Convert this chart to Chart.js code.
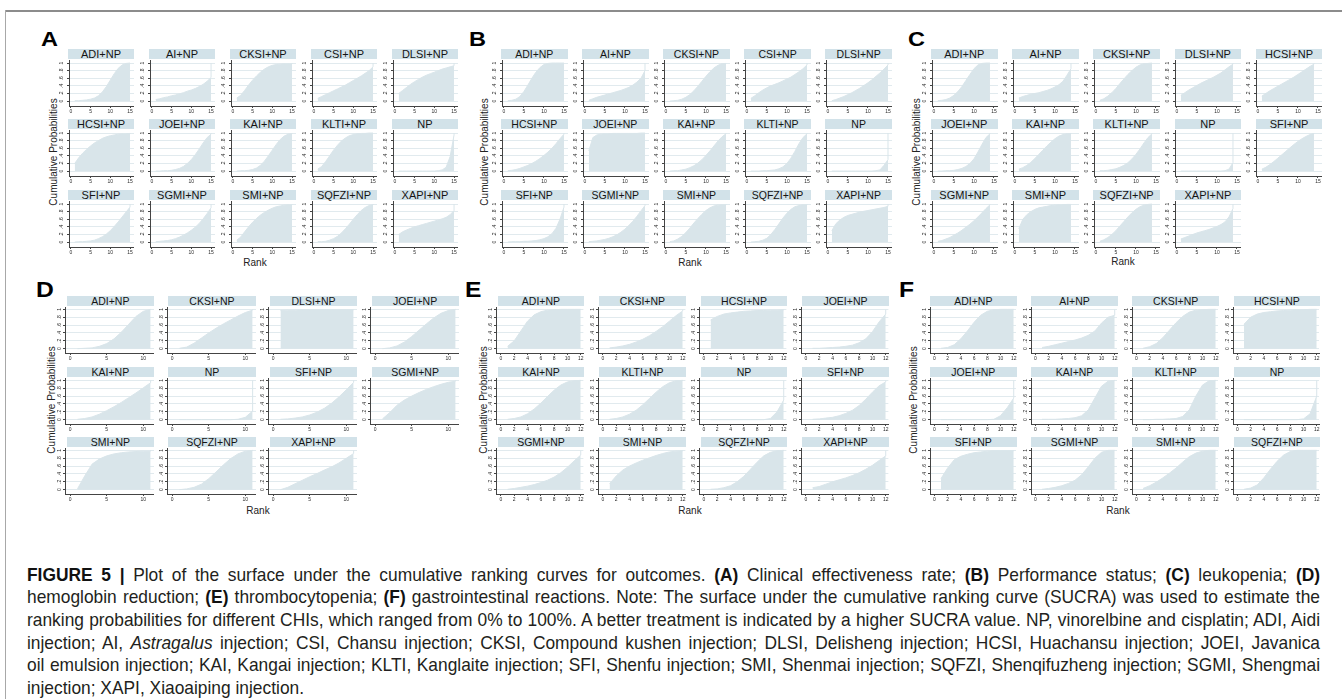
<!DOCTYPE html>
<html>
<head>
<meta charset="utf-8">
<title>SUCRA cumulative ranking plots</title>
<script src="https://cdn.jsdelivr.net/npm/chart.js@4.4.1/dist/chart.umd.min.js"></script>
<style>
  html, body { margin: 0; padding: 0; background: #fff; }
  body { width: 1342px; height: 699px; position: relative; overflow: hidden; font-family: "Liberation Sans", Arial, sans-serif; }
  canvas { position: absolute; }
  .frame-top { position: absolute; left: 5px; top: 10px; width: 1337px; height: 2px; background: #8c8c8c; }
  .frame-left { position: absolute; left: 5px; top: 10px; width: 1px; height: 689px; background: #a8a8a8; }
  .strip { position: absolute; height: 10px; line-height: 10.5px; background: #d2e2e9; color: #141414; text-align: center; white-space: nowrap; overflow: visible; }
  .letter { position: absolute; font-weight: bold; color: #000; line-height: 1; transform-origin: 0 0; transform: scaleX(1.12); }
  .ytitle { position: absolute; font-size: 10px; color: #222; white-space: nowrap; transform: translate(-50%, -50%) rotate(-90deg); }
  .xtitle { position: absolute; font-size: 10px; color: #222; white-space: nowrap; transform: translate(-50%, -50%); }
  .cap { position: absolute; left: 27px; height: 23px; line-height: 23px; color: #231f20; font-size: 19px;
         text-align: justify; text-align-last: justify; white-space: nowrap; transform-origin: 0 50%; }
  .cap.last { text-align: left; text-align-last: left; }
  .cap b { color: #111; }
</style>
</head>
<body>
<div class="frame-top"></div>
<div class="frame-left"></div>

<script>
// ---- shared axis ticks ----
const yTickValues = [0, 0.2, 0.4, 0.6, 0.8, 1];
const yTickLabels = ['0', '.2', '.4', '.6', '.8', '1'];
const xTicks15 = [0, 5, 10, 15];
const xTicks11 = [0, 5, 10];
const xTicks12 = [0, 2, 4, 6, 8, 10, 12];

// ---- ranks (x categories) ----
const ranks15 = [1, 2, 3, 4, 5, 6, 7, 8, 9, 10, 11, 12, 13, 14, 15];
const ranks14 = [1, 2, 3, 4, 5, 6, 7, 8, 9, 10, 11, 12, 13, 14];
const ranks11 = [1, 2, 3, 4, 5, 6, 7, 8, 9, 10, 11];
const ranks12 = [1, 2, 3, 4, 5, 6, 7, 8, 9, 10, 11, 12];

// every curve closes at cumulative probability 1 on the last rank
const finalCumulative = 1;

// ---- (A) Clinical effectiveness rate ----
const treatmentsA = ['ADI+NP', 'AI+NP', 'CKSI+NP', 'CSI+NP', 'DLSI+NP', 'HCSI+NP', 'JOEI+NP', 'KAI+NP', 'KLTI+NP', 'NP', 'SFI+NP', 'SGMI+NP', 'SMI+NP', 'SQFZI+NP', 'XAPI+NP'];
const cumProbA = [
  [0.01, 0.01, 0.02, 0.03, 0.05, 0.08, 0.14, 0.24, 0.38, 0.55, 0.72, 0.86, 0.95, 0.99, 1],
  [0.04, 0.06, 0.09, 0.11, 0.14, 0.16, 0.19, 0.22, 0.26, 0.29, 0.33, 0.38, 0.44, 0.52, 0.62],
  [0.08, 0.15, 0.28, 0.42, 0.55, 0.66, 0.76, 0.84, 0.9, 0.94, 0.96, 0.97, 0.98, 0.98, 0.98],
  [0.07, 0.12, 0.17, 0.22, 0.27, 0.32, 0.37, 0.42, 0.48, 0.54, 0.6, 0.66, 0.73, 0.8, 0.9],
  [0.2, 0.28, 0.36, 0.44, 0.51, 0.57, 0.63, 0.68, 0.72, 0.76, 0.8, 0.84, 0.87, 0.9, 0.93],
  [0.2, 0.35, 0.47, 0.57, 0.66, 0.74, 0.8, 0.86, 0.9, 0.93, 0.95, 0.97, 0.98, 0.98, 0.99],
  [0, 0, 0.01, 0.01, 0.02, 0.04, 0.07, 0.12, 0.2, 0.3, 0.43, 0.58, 0.74, 0.88, 0.97],
  [0, 0.01, 0.01, 0.02, 0.04, 0.08, 0.15, 0.26, 0.4, 0.55, 0.7, 0.83, 0.92, 0.97, 0.99],
  [0.05, 0.12, 0.25, 0.4, 0.55, 0.68, 0.79, 0.87, 0.93, 0.96, 0.98, 0.99, 0.99, 1, 1],
  [0, 0, 0, 0, 0, 0, 0, 0, 0, 0, 0.01, 0.03, 0.1, 0.38, 0.95],
  [0, 0.01, 0.01, 0.02, 0.03, 0.05, 0.09, 0.14, 0.21, 0.3, 0.41, 0.53, 0.66, 0.79, 0.92],
  [0.01, 0.02, 0.03, 0.04, 0.06, 0.09, 0.13, 0.18, 0.24, 0.31, 0.39, 0.49, 0.61, 0.75, 0.9],
  [0.05, 0.13, 0.27, 0.4, 0.52, 0.62, 0.71, 0.78, 0.84, 0.89, 0.93, 0.95, 0.97, 0.98, 0.98],
  [0.01, 0.01, 0.02, 0.05, 0.09, 0.15, 0.24, 0.35, 0.47, 0.6, 0.72, 0.83, 0.91, 0.96, 0.98],
  [0.2, 0.27, 0.32, 0.36, 0.4, 0.43, 0.46, 0.49, 0.52, 0.55, 0.58, 0.61, 0.65, 0.72, 0.83]
];

// ---- (B) Performance status ----
const treatmentsB = ['ADI+NP', 'AI+NP', 'CKSI+NP', 'CSI+NP', 'DLSI+NP', 'HCSI+NP', 'JOEI+NP', 'KAI+NP', 'KLTI+NP', 'NP', 'SFI+NP', 'SGMI+NP', 'SMI+NP', 'SQFZI+NP', 'XAPI+NP'];
const cumProbB = [
  [0.01, 0.02, 0.05, 0.12, 0.25, 0.42, 0.6, 0.76, 0.88, 0.96, 0.99, 1, 1, 1, 1],
  [0.02, 0.06, 0.1, 0.13, 0.16, 0.19, 0.22, 0.25, 0.28, 0.32, 0.36, 0.42, 0.5, 0.6, 0.8],
  [0, 0.01, 0.02, 0.05, 0.1, 0.17, 0.27, 0.39, 0.52, 0.65, 0.77, 0.87, 0.94, 0.98, 0.99],
  [0.07, 0.14, 0.22, 0.29, 0.35, 0.4, 0.44, 0.48, 0.53, 0.58, 0.63, 0.7, 0.77, 0.85, 0.95],
  [0.01, 0.04, 0.08, 0.12, 0.17, 0.22, 0.28, 0.34, 0.41, 0.48, 0.56, 0.65, 0.74, 0.84, 0.95],
  [0.01, 0.02, 0.04, 0.07, 0.11, 0.15, 0.2, 0.26, 0.33, 0.41, 0.5, 0.6, 0.72, 0.85, 0.97],
  [0.53, 0.88, 0.95, 0.97, 0.98, 0.98, 0.99, 0.99, 0.99, 0.99, 0.99, 0.99, 0.99, 1, 1],
  [0, 0.01, 0.01, 0.03, 0.05, 0.09, 0.14, 0.21, 0.3, 0.41, 0.53, 0.66, 0.79, 0.9, 0.98],
  [0, 0, 0, 0.01, 0.01, 0.02, 0.03, 0.06, 0.11, 0.2, 0.34, 0.52, 0.72, 0.88, 0.98],
  [0, 0, 0, 0, 0, 0, 0, 0, 0, 0, 0, 0.01, 0.03, 0.15, 0.3],
  [0, 0.01, 0.01, 0.01, 0.02, 0.02, 0.03, 0.04, 0.06, 0.09, 0.14, 0.22, 0.36, 0.6, 0.92],
  [0.01, 0.02, 0.03, 0.05, 0.07, 0.1, 0.14, 0.19, 0.26, 0.34, 0.44, 0.55, 0.68, 0.82, 0.96],
  [0.01, 0.03, 0.08, 0.15, 0.25, 0.37, 0.5, 0.62, 0.73, 0.83, 0.9, 0.95, 0.97, 0.98, 0.98],
  [0, 0.01, 0.02, 0.05, 0.1, 0.2, 0.33, 0.48, 0.63, 0.76, 0.86, 0.93, 0.96, 0.98, 0.98],
  [0.3, 0.48, 0.58, 0.65, 0.7, 0.73, 0.76, 0.79, 0.81, 0.83, 0.85, 0.87, 0.89, 0.91, 0.94]
];

// ---- (C) leukopenia ----
const treatmentsC = ['ADI+NP', 'AI+NP', 'CKSI+NP', 'DLSI+NP', 'HCSI+NP', 'JOEI+NP', 'KAI+NP', 'KLTI+NP', 'NP', 'SFI+NP', 'SGMI+NP', 'SMI+NP', 'SQFZI+NP', 'XAPI+NP'];
const cumProbC = [
  [0.01, 0.02, 0.04, 0.08, 0.15, 0.25, 0.38, 0.54, 0.7, 0.85, 0.95, 0.99, 1, 1],
  [0.08, 0.12, 0.15, 0.18, 0.2, 0.22, 0.25, 0.28, 0.32, 0.37, 0.43, 0.52, 0.68, 0.85],
  [0.02, 0.06, 0.13, 0.22, 0.33, 0.46, 0.58, 0.7, 0.8, 0.89, 0.95, 0.98, 0.99, 1],
  [0.15, 0.22, 0.29, 0.35, 0.41, 0.47, 0.52, 0.57, 0.62, 0.68, 0.74, 0.82, 0.9, 0.97],
  [0.13, 0.2, 0.27, 0.33, 0.39, 0.45, 0.51, 0.57, 0.63, 0.7, 0.77, 0.84, 0.91, 0.97],
  [0, 0, 0.01, 0.01, 0.02, 0.04, 0.07, 0.12, 0.2, 0.32, 0.5, 0.7, 0.88, 0.98],
  [0.05, 0.09, 0.15, 0.23, 0.33, 0.44, 0.55, 0.66, 0.76, 0.85, 0.92, 0.96, 0.98, 0.99],
  [0.01, 0.01, 0.02, 0.04, 0.06, 0.1, 0.15, 0.22, 0.32, 0.44, 0.58, 0.74, 0.88, 0.98],
  [0, 0, 0, 0, 0, 0, 0, 0, 0, 0, 0, 0.01, 0.05, 0.22],
  [0.05, 0.1, 0.17, 0.25, 0.34, 0.43, 0.52, 0.61, 0.7, 0.78, 0.85, 0.91, 0.96, 0.99],
  [0.02, 0.04, 0.08, 0.12, 0.18, 0.24, 0.31, 0.39, 0.47, 0.56, 0.66, 0.77, 0.88, 0.98],
  [0.35, 0.6, 0.72, 0.8, 0.86, 0.9, 0.92, 0.94, 0.96, 0.97, 0.98, 0.98, 0.99, 0.99],
  [0.02, 0.06, 0.12, 0.2, 0.3, 0.42, 0.54, 0.66, 0.77, 0.86, 0.93, 0.97, 0.99, 1],
  [0.08, 0.12, 0.16, 0.2, 0.24, 0.27, 0.3, 0.33, 0.37, 0.41, 0.46, 0.53, 0.66, 0.88]
];

// ---- (D) hemoglobin reduction ----
const treatmentsD = ['ADI+NP', 'CKSI+NP', 'DLSI+NP', 'JOEI+NP', 'KAI+NP', 'NP', 'SFI+NP', 'SGMI+NP', 'SMI+NP', 'SQFZI+NP', 'XAPI+NP'];
const cumProbD = [
  [0, 0.01, 0.02, 0.06, 0.13, 0.25, 0.42, 0.62, 0.82, 0.95, 1],
  [0.01, 0.04, 0.14, 0.27, 0.4, 0.52, 0.63, 0.73, 0.83, 0.92, 0.98],
  [0.97, 0.98, 0.98, 0.99, 0.99, 0.99, 0.99, 0.99, 0.99, 0.99, 0.99],
  [0, 0.02, 0.07, 0.17, 0.31, 0.47, 0.63, 0.78, 0.9, 0.97, 1],
  [0.01, 0.03, 0.07, 0.14, 0.23, 0.33, 0.44, 0.56, 0.68, 0.81, 0.94],
  [0, 0, 0, 0, 0, 0, 0, 0, 0.01, 0.06, 0.22],
  [0.01, 0.02, 0.04, 0.07, 0.12, 0.19, 0.29, 0.42, 0.58, 0.76, 0.95],
  [0.02, 0.18, 0.37, 0.5, 0.6, 0.69, 0.77, 0.84, 0.9, 0.95, 0.98],
  [0.02, 0.35, 0.65, 0.78, 0.86, 0.91, 0.94, 0.96, 0.97, 0.98, 0.98],
  [0, 0.02, 0.06, 0.14, 0.28, 0.45, 0.63, 0.79, 0.91, 0.98, 1],
  [0, 0.06, 0.15, 0.24, 0.33, 0.41, 0.5, 0.58, 0.68, 0.8, 0.92]
];

// ---- (E) thrombocytopenia ----
const treatmentsE = ['ADI+NP', 'CKSI+NP', 'HCSI+NP', 'JOEI+NP', 'KAI+NP', 'KLTI+NP', 'NP', 'SFI+NP', 'SGMI+NP', 'SMI+NP', 'SQFZI+NP', 'XAPI+NP'];
const cumProbE = [
  [0.06, 0.2, 0.45, 0.7, 0.86, 0.94, 0.98, 0.99, 1, 1, 1, 1],
  [0.02, 0.04, 0.07, 0.11, 0.17, 0.24, 0.33, 0.44, 0.56, 0.7, 0.84, 0.96],
  [0.73, 0.82, 0.88, 0.91, 0.93, 0.95, 0.96, 0.97, 0.97, 0.98, 0.98, 0.99],
  [0.01, 0.01, 0.02, 0.03, 0.04, 0.06, 0.09, 0.15, 0.25, 0.43, 0.68, 0.88],
  [0.01, 0.03, 0.07, 0.15, 0.27, 0.42, 0.59, 0.75, 0.88, 0.96, 0.99, 1],
  [0.01, 0.03, 0.07, 0.14, 0.24, 0.38, 0.54, 0.7, 0.84, 0.94, 0.99, 1],
  [0, 0, 0, 0, 0, 0, 0, 0, 0, 0.03, 0.2, 0.5],
  [0.01, 0.02, 0.04, 0.06, 0.1, 0.16, 0.24, 0.36, 0.52, 0.7, 0.86, 0.96],
  [0.01, 0.03, 0.06, 0.09, 0.13, 0.18, 0.24, 0.32, 0.43, 0.57, 0.73, 0.88],
  [0.15, 0.35, 0.5, 0.6, 0.68, 0.75, 0.81, 0.87, 0.92, 0.96, 0.98, 0.99],
  [0.01, 0.02, 0.05, 0.1, 0.2, 0.34, 0.52, 0.7, 0.86, 0.95, 0.99, 1],
  [0.05, 0.08, 0.14, 0.2, 0.25, 0.3, 0.36, 0.43, 0.52, 0.62, 0.74, 0.86]
];

// ---- (F) gastrointestinal reactions ----
const treatmentsF = ['ADI+NP', 'AI+NP', 'CKSI+NP', 'HCSI+NP', 'JOEI+NP', 'KAI+NP', 'KLTI+NP', 'NP', 'SFI+NP', 'SGMI+NP', 'SMI+NP', 'SQFZI+NP'];
const cumProbF = [
  [0.01, 0.03, 0.1, 0.25, 0.45, 0.67, 0.85, 0.95, 0.99, 1, 1, 1],
  [0.03, 0.06, 0.1, 0.14, 0.18, 0.22, 0.27, 0.34, 0.45, 0.65, 0.8, 0.85],
  [0.01, 0.05, 0.13, 0.28, 0.47, 0.66, 0.82, 0.93, 0.98, 0.99, 1, 1],
  [0.62, 0.8, 0.88, 0.92, 0.94, 0.96, 0.97, 0.98, 0.99, 0.99, 1, 1],
  [0, 0, 0, 0, 0, 0, 0, 0, 0.01, 0.1, 0.3, 0.55],
  [0.01, 0.01, 0.01, 0.02, 0.03, 0.05, 0.1, 0.25, 0.55, 0.85, 0.98, 1],
  [0, 0, 0.01, 0.01, 0.02, 0.03, 0.08, 0.25, 0.6, 0.88, 0.99, 1],
  [0, 0, 0, 0, 0, 0, 0, 0, 0, 0.02, 0.15, 0.6],
  [0.28, 0.55, 0.76, 0.85, 0.9, 0.94, 0.96, 0.98, 0.99, 0.99, 0.99, 0.99],
  [0.01, 0.03, 0.06, 0.1, 0.16, 0.24, 0.38, 0.58, 0.8, 0.95, 1, 1],
  [0.03, 0.1, 0.19, 0.3, 0.42, 0.55, 0.7, 0.84, 0.93, 0.98, 1, 1],
  [0.01, 0.04, 0.12, 0.3, 0.52, 0.72, 0.88, 0.97, 1, 1, 1, 1]
];

// ---- styling ----
const AREA = '#d9e5ea';
const GRID = '#e1eaee';
const AXIS = '#444';
const TICK_TEXT = '#2a2a2a';
const FONT = 'Liberation Sans';
const YW = 12;   // width reserved for the y axis (ticks + labels)
const XH = 8;    // height reserved for the x axis (ticks + labels)
const PLOT_TOP = 11; // strip height + gap above the plot region
const PLOT_BOTTOM = 57;

// layout of each panel's grid of small multiples
const panels = [
  { key: 'A', names: treatmentsA, values: cumProbA, ranks: ranks15, xTicks: xTicks15, cols: 5,
    x0: 68, dx: 81, y0: 48.5, dy: 70.8, w: 66, axOff: 1.3, xMin: -0.45, xMax: 16, yMin: -0.13, yMax: 1.08, yPad: 3, stripFont: 11,
    letter: { x: 41, y: 28, size: 21 }, ytitle: { x: 53, y: 152 }, xtitle: { x: 255, y: 262 } },
  { key: 'B', names: treatmentsB, values: cumProbB, ranks: ranks15, xTicks: xTicks15, cols: 5,
    x0: 501, dx: 81.1, y0: 48.5, dy: 70.8, w: 66.5, axOff: 0.5, xMin: -0.45, xMax: 16, yMin: -0.13, yMax: 1.08, yPad: 3, stripFont: 10.5,
    letter: { x: 469, y: 28, size: 21 }, ytitle: { x: 484, y: 152 }, xtitle: { x: 690, y: 262 } },
  { key: 'C', names: treatmentsC, values: cumProbC, ranks: ranks14, xTicks: xTicks15, cols: 5,
    x0: 931, dx: 81.2, y0: 48.5, dy: 70.8, w: 66.5, axOff: 0.5, xMin: -0.45, xMax: 16, yMin: -0.13, yMax: 1.08, yPad: 3, stripFont: 11,
    letter: { x: 908, y: 28, size: 21 }, ytitle: { x: 916, y: 152 }, xtitle: { x: 1123, y: 261 } },
  { key: 'D', names: treatmentsD, values: cumProbD, ranks: ranks11, xTicks: xTicks11, cols: 4,
    x0: 66.7, dx: 101.6, y0: 296, dy: 70.7, w: 87.3, axOff: -1.7, xMin: -0.7, xMax: 11.46, yMin: -0.11, yMax: 1.06, yPad: 1, stripFont: 10.5,
    letter: { x: 36, y: 279, size: 22 }, ytitle: { x: 51, y: 400 }, xtitle: { x: 258, y: 510 } },
  { key: 'E', names: treatmentsE, values: cumProbE, ranks: ranks12, xTicks: xTicks12, cols: 4,
    x0: 497.7, dx: 101.5, y0: 296, dy: 70.7, w: 86.6, axOff: -1.7, xMin: -0.74, xMax: 12.4, yMin: -0.11, yMax: 1.06, yPad: 1, stripFont: 10.5,
    letter: { x: 465, y: 279, size: 22 }, ytitle: { x: 483, y: 400 }, xtitle: { x: 690, y: 510 } },
  { key: 'F', names: treatmentsF, values: cumProbF, ranks: ranks12, xTicks: xTicks12, cols: 4,
    x0: 930, dx: 101.2, y0: 296, dy: 70.7, w: 86.7, axOff: -0.5, xMin: -0.66, xMax: 12.35, yMin: -0.11, yMax: 1.06, yPad: 1, stripFont: 10.5,
    letter: { x: 899, y: 279, size: 22 }, ytitle: { x: 913, y: 400 }, xtitle: { x: 1118, y: 510 } }
];

function addDiv(cls, text, css) {
  const d = document.createElement('div');
  d.className = cls;
  d.textContent = text;
  Object.assign(d.style, css);
  document.body.appendChild(d);
  return d;
}

function drawCell(p, i) {
  const col = i % p.cols, row = Math.floor(i / p.cols);
  const X = p.x0 + col * p.dx;
  const Y = Math.round(p.y0 + row * p.dy);

  // grey-blue header strip holding the treatment name
  addDiv('strip', p.names[i], { left: X + 'px', top: Y + 'px', width: p.w + 'px', fontSize: p.stripFont + 'px' });

  const left = Math.round(X + p.axOff - YW);
  const width = Math.round(X + p.w) - left;
  const height = PLOT_BOTTOM + XH;
  const cv = document.createElement('canvas');
  cv.width = width; cv.height = height;
  cv.style.left = left + 'px'; cv.style.top = Y + 'px';
  cv.style.width = width + 'px'; cv.style.height = height + 'px';
  document.body.appendChild(cv);

  const vals = p.values[i];
  const points = p.ranks.map((r, k) => ({ x: r, y: vals[k] }));
  // vertical edge up to the closing cumulative value on the last rank
  points.push({ x: p.ranks[p.ranks.length - 1], y: finalCumulative });

  new Chart(cv, {
    type: 'line',
    data: {
      datasets: [{
        data: points,
        fill: 'origin',
        backgroundColor: AREA,
        borderColor: AREA,
        borderWidth: 1,
        pointRadius: 0,
        tension: 0
      }]
    },
    options: {
      responsive: false,
      animation: false,
      events: [],
      devicePixelRatio: 1,
      parsing: false,
      layout: { padding: { top: PLOT_TOP, right: 0, left: 0, bottom: 0 } },
      plugins: { legend: { display: false }, tooltip: { enabled: false }, title: { display: false } },
      scales: {
        x: {
          type: 'linear', min: p.xMin, max: p.xMax,
          afterBuildTicks: s => { s.ticks = p.xTicks.map(v => ({ value: v })); },
          afterFit: s => { s.height = XH; },
          ticks: { autoSkip: false, maxRotation: 0, minRotation: 0, padding: 0.5, color: TICK_TEXT,
                   font: { size: 5, family: FONT } },
          grid: { drawOnChartArea: false, drawTicks: true, tickLength: 2, tickColor: AXIS },
          border: { display: true, color: AXIS, width: 1 }
        },
        y: {
          type: 'linear', min: p.yMin, max: p.yMax,
          afterBuildTicks: s => { s.ticks = yTickValues.map(v => ({ value: v })); },
          afterFit: s => { s.width = YW; },
          ticks: { autoSkip: false, minRotation: 90, maxRotation: 90, crossAlign: 'center', padding: p.yPad,
                   color: TICK_TEXT, font: { size: 5, family: FONT },
                   callback: (v, idx) => yTickLabels[idx] },
          grid: { color: GRID, lineWidth: 1, drawTicks: true, tickLength: 2, tickColor: AXIS },
          border: { display: true, color: AXIS, width: 1 }
        }
      }
    }
  });
}

panels.forEach(p => {
  addDiv('letter', p.key, { left: p.letter.x + 'px', top: p.letter.y + 'px', fontSize: p.letter.size + 'px' });
  addDiv('ytitle', 'Cumulative Probabilities', { left: p.ytitle.x + 'px', top: p.ytitle.y + 'px' });
  addDiv('xtitle', 'Rank', { left: p.xtitle.x + 'px', top: p.xtitle.y + 'px' });
  p.names.forEach((n, i) => drawCell(p, i));
});

// ---- figure caption ----
const captionLines = [
  '<b>FIGURE 5 |</b> Plot of the surface under the cumulative ranking curves for outcomes. <b>(A)</b> Clinical effectiveness rate; <b>(B)</b> Performance status; <b>(C)</b> leukopenia; <b>(D)</b>',
  'hemoglobin reduction; <b>(E)</b> thrombocytopenia; <b>(F)</b> gastrointestinal reactions. Note: The surface under the cumulative ranking curve (SUCRA) was used to estimate the',
  'ranking probabilities for different CHIs, which ranged from 0% to 100%. A better treatment is indicated by a higher SUCRA value. NP, vinorelbine and cisplatin; ADI, Aidi',
  'injection; AI, <i>Astragalus</i> injection; CSI, Chansu injection; CKSI, Compound kushen injection; DLSI, Delisheng injection; HCSI, Huachansu injection; JOEI, Javanica',
  'oil emulsion injection; KAI, Kangai injection; KLTI, Kanglaite injection; SFI, Shenfu injection; SMI, Shenmai injection; SQFZI, Shenqifuzheng injection; SGMI, Shengmai',
  'injection; XAPI, Xiaoaiping injection.'
];

// The caption face is a condensed sans: draw it in Liberation Sans squeezed horizontally
// so that the fullest line just fills the justified text column.
const capLeft = 27, capWidth = 1293;
const probe = document.createElement('span');
probe.style.cssText = 'position:absolute;visibility:hidden;white-space:nowrap;font-size:19px;font-family:"Liberation Sans",Arial,sans-serif;';
document.body.appendChild(probe);
const natural = captionLines.map(l => { probe.innerHTML = l; return probe.getBoundingClientRect().width; });
probe.remove();
const widestBody = Math.max(...natural.slice(0, 5));
const squeeze = Math.min(1, (capWidth - 10) / widestBody);

captionLines.forEach((l, k) => {
  const d = document.createElement('div');
  const last = k === captionLines.length - 1;
  d.className = 'cap' + (last ? ' last' : '');
  d.style.top = (562.5 + k * 22.7) + 'px';
  d.style.left = capLeft + 'px';
  d.style.width = (last ? natural[k] + 4 : capWidth / squeeze) + 'px';
  d.style.transform = 'scaleX(' + squeeze + ')';
  d.innerHTML = l;
  document.body.appendChild(d);
});
</script>
</body>
</html>
